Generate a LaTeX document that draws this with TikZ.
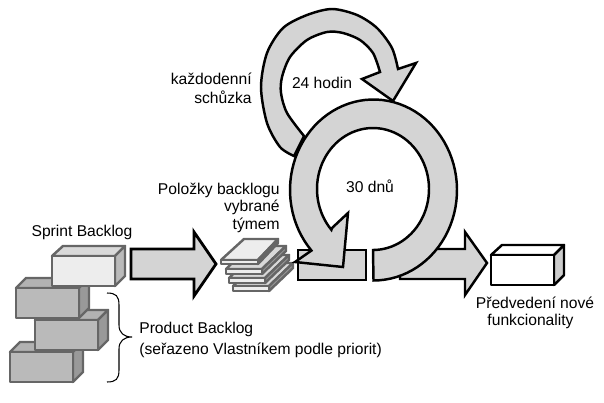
\documentclass[tikz,border=0pt]{standalone}
\usepackage{fontspec}
\setmainfont{Liberation Sans}
\definecolor{ringgray}{HTML}{D4D4D4}
\tikzset{
	ring/.style={draw=black,fill=ringgray,line width=1.4pt,line join=miter},
	whitebox/.style={draw=black,line width=1.4pt,line join=round},
	blockedge/.style={draw=black!60,line width=1.4pt,line join=round},
	label/.style={font=\fontsize{8.9pt}{10pt}\selectfont,inner sep=0pt}
}
\begin{document}
\begin{tikzpicture}[x=0.02cm,y=-0.02cm]
			\useasboundingbox (0,0) rectangle (604,402);
			% Product backlog blocks
			\foreach \x/\y in {10/352,35/320,16/288} {
				\draw[blockedge,fill=black!30] (\x,\y) -- ++(10,-10) -- ++(63,0) -- ++(-10,10) -- cycle; % top
				\draw[blockedge,fill=black!40] (\x+63,\y) -- ++(10,-10) -- ++(0,30) -- ++(-10,10) -- cycle; % side
				\draw[blockedge,fill=black!27] (\x,\y) rectangle ++(63,30); % front
			}
			% Sprint backlog block
			\draw[blockedge,fill=black!15] (52,256) -- (63,246) -- (125,246) -- (115,256) -- cycle;
			\draw[blockedge,fill=black!27] (115,256) -- (125,246) -- (125,276) -- (115,286) -- cycle;
			\draw[blockedge,fill=black!7] (52,256) rectangle (115,286);
			\node[label] (sprint) at (82,232) {Sprint Backlog};
			% Brace
			\draw[line width=0.6pt] (107,293) .. controls (116,293) and (119,296) .. (119,305) -- (119,325) .. controls (119,333) and (124,337) .. (132,337) .. controls (124,337) and (119,341) .. (119,349) -- (119,370) .. controls (119,379) and (116,382) .. (107,382);
			\node[label,anchor=west] (product) at (139,329) {Product Backlog};
			\node[label,anchor=west] (order) at (139,350) {(seřazeno Vlastníkem podle priorit)};
			% Arrow to the sheets
			\draw[ring,line width=1.6pt] (131,249) -- (194,249) -- (194,232) -- (216,264) -- (194,296) -- (194,279) -- (131,279) -- cycle;
			% Sheets
			\foreach \x/\y in {233/286,229/278,226/269} {
				\draw[blockedge,fill=black!15] (\x,\y) -- ++(24,-23) -- ++(36,0) -- ++(-24,23) -- cycle;
				\draw[blockedge,fill=black!40] (\x+36,\y) -- ++(24,-23) -- ++(0,5) -- ++(-24,23) -- cycle;
				\draw[blockedge,fill=black!7] (\x,\y) rectangle ++(36,5);
			}
			\draw[blockedge,fill=black!7] (221,260) -- (244,239) -- (278,239) -- (258,260) -- cycle;
			\draw[blockedge,fill=black!40] (258,260) -- (278,239) -- (278,243) -- (258,264) -- cycle;
			\draw[blockedge,fill=black!7] (221,260) rectangle (258,264);
			\node[label,anchor=east] (items) at (280,190) {Položky backlogu};
			\node[label,anchor=east] (chosen) at (280,207) {vybrané};
			\node[label,anchor=east] (team) at (280,225) {týmem};
			% Arrow out of the loop
			\draw[ring] (400,249) -- (465,249) -- (465,232) -- (487,263) -- (465,295) -- (465,279) -- (400,279) -- cycle;
			% Small loop
			\draw[ring] plot[smooth] coordinates {(294,156) (280,147) (267,123) (261,87) (267,53) (283,28) (307,15) (332,9) (357,15) (377,28) (392,48) (398,69)} -- (416,63) -- (393,101) -- (362,79) -- (380,72) -- plot[smooth] coordinates {(380,72) (373,53) (360,40) (343,33) (327,32) (307,40) (290,57) (282,77) (281,93) (287,113) (304,136)} -- cycle;
			\node[label] (day) at (322,83) {24 hodin};
			\node[label,anchor=east] (daily) at (252,79) {každodenní};
			\node[label,anchor=east] (meeting) at (252,97) {schůzka};
			% Big loop
			\draw[ring] (298,250) rectangle (366,280);
			\draw[ring] plot[domain=90:-222,samples=80] ({373.5+83.5*cos(\x)},{190+90.5*sin(\x)}) -- (295,262) -- (343,267) -- (348,213) -- (332,228) -- plot[domain=-222:90,samples=80] ({373+56*cos(\x)},{189+61*sin(\x)}) -- cycle;
			\node[label] (month) at (370,186) {30 dnů};
			% Finished block
			\draw[whitebox,fill=white] (491,255) -- (502,245) -- (564,245) -- (554,255) -- cycle;
			\draw[whitebox,fill=black!20] (554,255) -- (564,245) -- (564,275) -- (554,285) -- cycle;
			\draw[whitebox,fill=white] (491,255) rectangle (554,285);
			\node[label] (demo) at (535,303) {Předvedení nové};
			\node[label] (feature) at (530.5,321) {funkcionality};
		\end{tikzpicture}
\end{document}
